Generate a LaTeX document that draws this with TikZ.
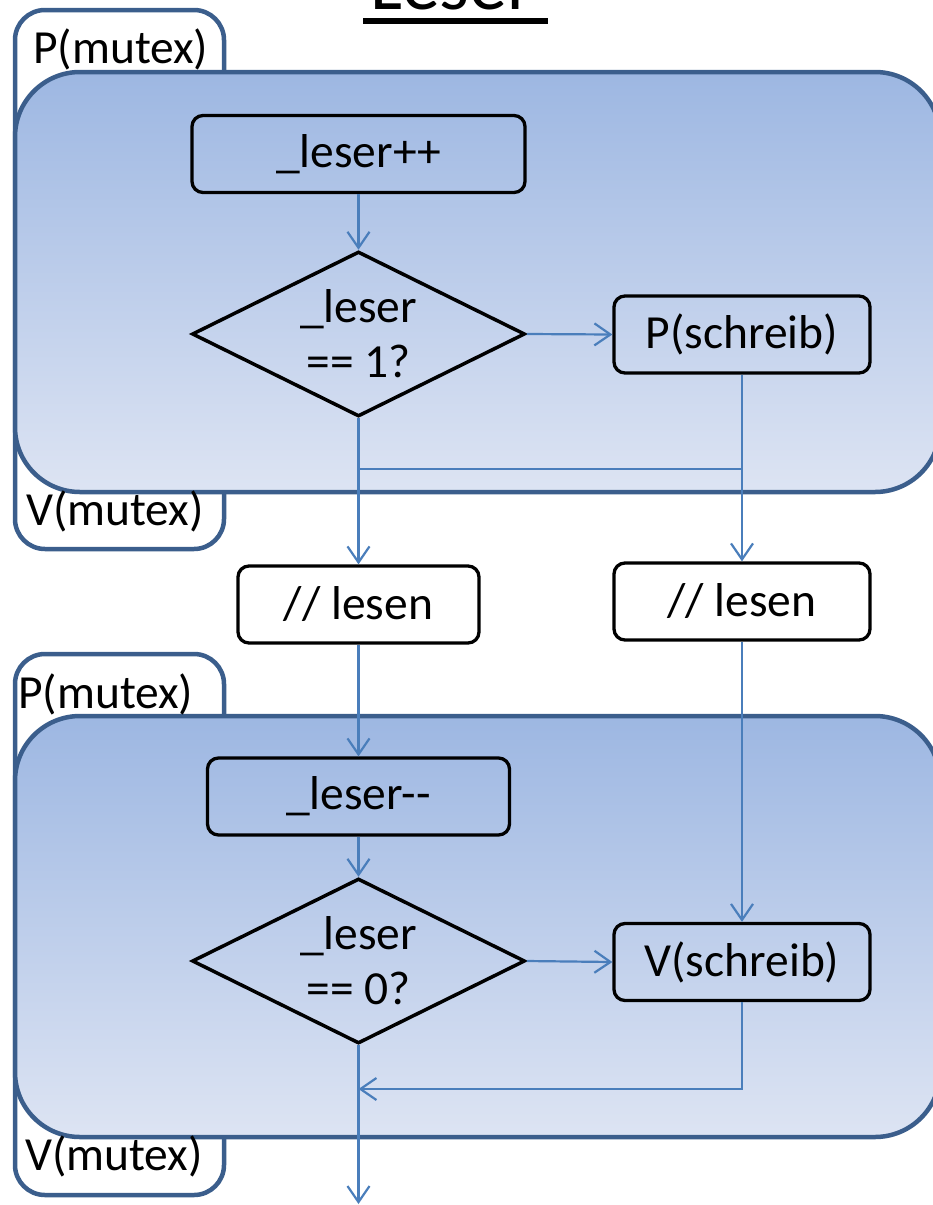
\documentclass[tikz,border=0pt]{standalone}
\usepackage{fontspec}
\setmainfont{Carlito}
\usetikzlibrary{arrows.meta,shapes.geometric}
\definecolor{grpborder}{HTML}{3B5E8C}
\definecolor{grptop}{RGB}{157,183,226}
\definecolor{grpbot}{RGB}{221,228,243}
\definecolor{conn}{HTML}{4A7EBB}
\tikzset{
  tab/.style={draw=grpborder, line width=4.5pt, fill=white, rounded corners=30pt},
  grp/.style={draw=grpborder, line width=4.5pt, top color=grptop, bottom color=grpbot, rounded corners=65pt},
  stepbox/.style={draw=black, line width=3.3pt, rounded corners=11pt, inner sep=0pt, minimum height=77pt},
  decide/.style={draw=black, line width=3.5pt, diamond, inner sep=0pt, minimum width=333pt, minimum height=165pt},
  lbl/.style={font=\fontsize{47.5}{55}\selectfont, align=center},
  tablbl/.style={font=\fontsize{47.5}{54}\selectfont, anchor=base west, inner sep=0pt},
  flow/.style={draw=conn, line width=2.2pt, -{Straight Barb[length=16pt,width=22pt,line width=2.2pt]}},
  flowline/.style={draw=conn, line width=2.2pt},
}
\begin{document}
\begin{tikzpicture}[x=1pt,y=-1pt]
\useasboundingbox (0,0) rectangle (933,1205);
% title
\node[anchor=base, inner sep=0pt, font=\fontsize{76}{80}\selectfont] (title) at (452,9) {Leser};
\draw[line width=6pt] (363,21) -- (548,21);
% group 1
\path[tab] (15,10) rectangle (224,549);
\path[grp] (15,72) rectangle (940,492);
\node[tablbl] (pm1) at (33,63) {P(mutex)};
\node[tablbl] (vm1) at (26,525) {V(mutex)};
% group 2
\path[tab] (15,654) rectangle (224,1195);
\path[grp] (15,716) rectangle (940,1137);
\node[tablbl] (pm2) at (18,708) {P(mutex)};
\node[tablbl] (vm2) at (25,1170) {V(mutex)};
% nodes
\node[stepbox, minimum width=333pt, lbl] (lpp) at (358.5,154) {\_leser++};
\node[decide] (d1) at (358.5,334) {};
\node[lbl] (d1t) at (358.5,334) {\_leser\\== 1?};
\node[stepbox, minimum width=256pt, lbl] (ps) at (742,334.5) {P(schreib)};
\node[stepbox, minimum width=241pt, fill=white, lbl] (les1) at (358.5,604.5) {// lesen};
\node[stepbox, minimum width=256pt, fill=white, lbl] (les2) at (742,601.5) {// lesen};
\node[stepbox, minimum width=302pt, lbl] (lmm) at (358.5,796.5) {\_leser-{}-};
\node[decide] (d2) at (358.5,961) {};
\node[lbl] (d2t) at (358.5,961) {\_leser\\== 0?};
\node[stepbox, minimum width=256pt, lbl] (vs) at (742,962) {V(schreib)};
% helper coordinates
\coordinate (j1) at (358.5,469);
\coordinate (j2) at (742,469);
\coordinate (j3) at (358.5,1089);
\coordinate (out) at (358.5,1204);
% connectors
\draw[flow] (lpp) -- (d1);
\draw[flow] (d1.east) -- (ps.west);
\draw[flow] (d1.south) -- (les1.north);
\draw[flow] (ps.south) -- (les2.north);
\draw[flowline] (j1) -- (j2);
\draw[flow] (les1.south) -- (lmm.north);
\draw[flow] (lmm.south) -- (d2.north);
\draw[flow] (d2.east) -- (vs.west);
\draw[flow] (les2.south) -- (vs.north);
\draw[flow] (vs.south) |- (j3);
\draw[flow] (d2.south) -- (out);
\end{tikzpicture}
\end{document}
